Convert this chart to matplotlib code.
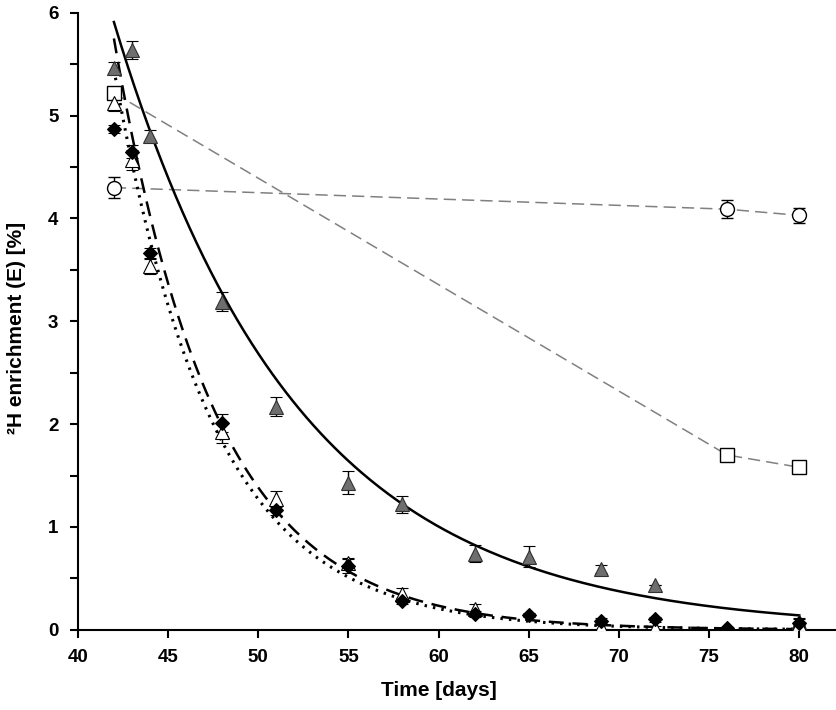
import numpy as np
import matplotlib.pyplot as plt

plt.rcParams['font.family'] = ['Liberation Sans', 'DejaVu Sans']
plt.rcParams['font.weight'] = 'bold'

# gray filled triangles
t_gray = [42, 43, 44, 48, 51, 55, 58, 62, 65, 69, 72, 80]
e_gray = [5.46, 5.64, 4.80, 3.19, 2.17, 1.43, 1.22, 0.74, 0.71, 0.59, 0.44, 0.08]
err_gray = [0.06, 0.09, 0.06, 0.09, 0.09, 0.11, 0.08, 0.08, 0.10, 0.04, 0.0, 0.03]

# black diamonds
t_dia = [42, 43, 44, 48, 51, 55, 58, 62, 65, 69, 72, 76, 80]
e_dia = [4.87, 4.65, 3.66, 2.01, 1.16, 0.62, 0.28, 0.15, 0.14, 0.09, 0.10, 0.02, 0.07]
err_dia = [0.04, 0.06, 0.05, 0.09, 0.04, 0.07, 0.03, 0.03, 0.02, 0.02, 0.02, 0.01, 0.03]

# open triangles
t_open = [42, 43, 44, 48, 51, 55, 58, 62, 69, 72, 80]
e_open = [5.12, 4.57, 3.54, 1.92, 1.27, 0.65, 0.35, 0.20, 0.03, 0.02, 0.06]
err_open = [0.08, 0.10, 0.08, 0.10, 0.08, 0.05, 0.06, 0.05, 0.02, 0.02, 0.02]

# open circles
t_circ = [42, 76, 80]
e_circ = [4.30, 4.09, 4.03]
err_circ = [0.10, 0.09, 0.07]

# open squares
t_sq = [42, 76, 80]
e_sq = [5.22, 1.70, 1.58]
err_sq = [0.03, 0.02, 0.03]

# exponential fit parameters (E = A * exp(-k (t - 42)))
fit_solid = (5.91, 0.0985)
fit_dashed = (5.75, 0.178)
fit_dotted = (5.45, 0.182)

fig = plt.figure(figsize=(8.37, 7.10), dpi=100)
ax = fig.add_axes([0.093, 0.113, 0.905, 0.869])

tt = np.linspace(42, 80, 300)
ax.plot(tt, fit_solid[0] * np.exp(-fit_solid[1] * (tt - 42)), color='black', lw=1.8, zorder=2)
ax.plot(tt, fit_dashed[0] * np.exp(-fit_dashed[1] * (tt - 42)), color='black', lw=1.8,
        dashes=(6, 3.5), zorder=2)
ax.plot(tt, fit_dotted[0] * np.exp(-fit_dotted[1] * (tt - 42)), color='black', lw=2.2,
        dashes=(0.8, 2.0), zorder=2)

ax.plot(t_circ, e_circ, color='#808080', lw=1.1, dashes=(8, 4), zorder=1)
ax.plot(t_sq, e_sq, color='#808080', lw=1.1, dashes=(8, 4), zorder=1)

eb = dict(ecolor='black', elinewidth=1.0, capsize=4, capthick=1.0, ls='none', zorder=3)
ax.errorbar(t_circ, e_circ, yerr=err_circ, marker='o', ms=10, mfc='white', mec='black',
            mew=1.0, **eb)
ax.errorbar(t_sq, e_sq, yerr=err_sq, marker='s', ms=10, mfc='white', mec='black',
            mew=1.0, **eb)
ax.errorbar(t_gray, e_gray, yerr=err_gray, marker='^', ms=10, mfc='#6e6e6e', mec='#303030',
            mew=0.8, **eb)
ax.errorbar(t_open, e_open, yerr=err_open, marker='^', ms=10, mfc='white', mec='black',
            mew=0.8, **eb)
ax.errorbar(t_dia, e_dia, yerr=err_dia, marker='D', ms=7.5, mfc='black', mec='black',
            mew=0.8, **eb)

ax.set_xlim(40, 82)
ax.set_ylim(0, 6)
ax.set_xticks(range(40, 81, 5))
ax.set_yticks(range(0, 7))
ax.set_yticks(np.arange(0.5, 6, 1.0), minor=True)
for s in ['top', 'right']:
    ax.spines[s].set_visible(False)
for s in ['left', 'bottom']:
    ax.spines[s].set_linewidth(1.5)
ax.tick_params(axis='both', which='major', direction='out', length=6, width=1.5,
               labelsize=13.5, pad=8)
ax.tick_params(axis='y', which='minor', direction='out', length=6, width=1.5)

ax.set_xlabel('Time [days]', fontsize=15, fontweight='bold')
ax.xaxis.set_label_coords(0.476, -0.083)
ax.set_ylabel('²H enrichment (E) [%]', fontsize=15, fontweight='bold')
ax.yaxis.set_label_coords(-0.069, 0.49)

fig.savefig('out.png', dpi=100)
